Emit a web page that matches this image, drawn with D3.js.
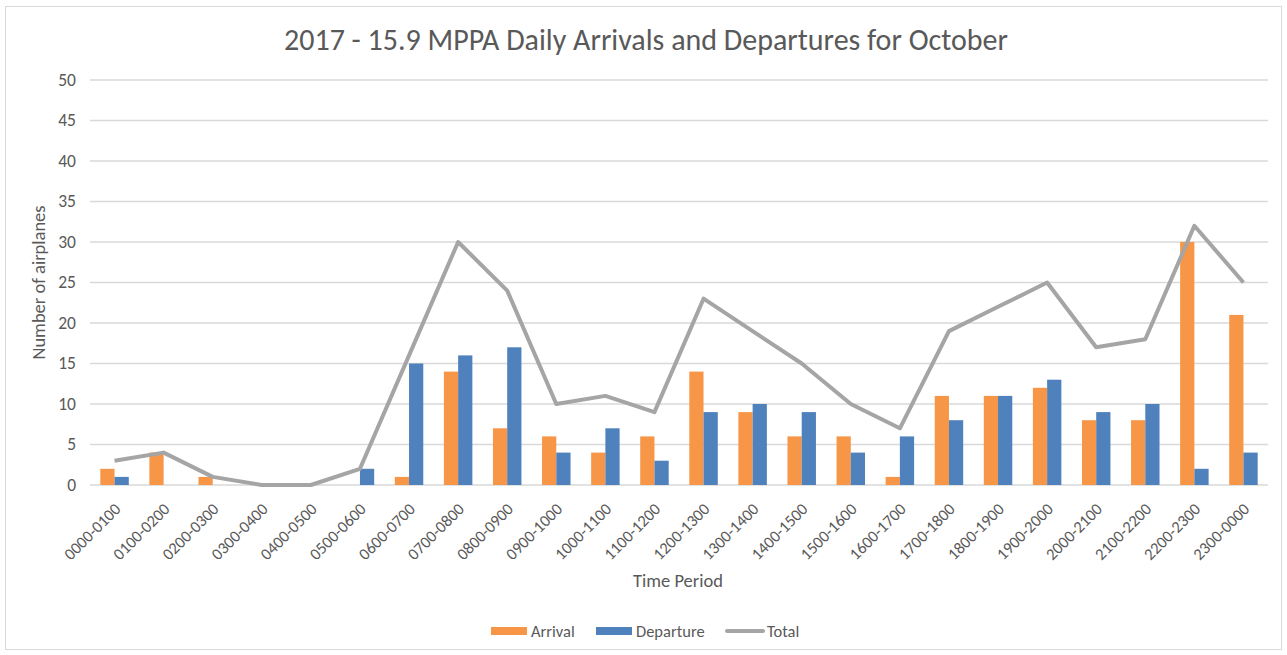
<!DOCTYPE html>
<html>
<head>
<meta charset="utf-8">
<script src="https://cdn.jsdelivr.net/npm/d3@7"></script>
<style>
  body { margin: 0; background: #fff; }
  text { font-family: Carlito, "Liberation Sans", Arial, sans-serif; fill: #595959; }
</style>
</head>
<body>
<div id="chart"></div>
<script>
const periods = [
  "0000-0100", "0100-0200", "0200-0300", "0300-0400", "0400-0500", "0500-0600",
  "0600-0700", "0700-0800", "0800-0900", "0900-1000", "1000-1100", "1100-1200",
  "1200-1300", "1300-1400", "1400-1500", "1500-1600", "1600-1700", "1700-1800",
  "1800-1900", "1900-2000", "2000-2100", "2100-2200", "2200-2300", "2300-0000",
];
const arrivals = [2, 4, 1, 0, 0, 0, 1, 14, 7, 6, 4, 6, 14, 9, 6, 6, 1, 11, 11, 12, 8, 8, 30, 21];
const departures = [1, 0, 0, 0, 0, 2, 15, 16, 17, 4, 7, 3, 9, 10, 9, 4, 6, 8, 11, 13, 9, 10, 2, 4];
const totals = [3, 4, 1, 0, 0, 2, 16, 30, 24, 10, 11, 9, 23, 19, 15, 10, 7, 19, 22, 25, 17, 18, 32, 25];
const yTicks = [0, 5, 10, 15, 20, 25, 30, 35, 40, 45, 50];

const COLORS = { arrival: "#F79646", departure: "#4F81BD", total: "#A5A5A5", grid: "#D9D9D9" };

const width = 1287;
const height = 655;
const plot = { left: 90, right: 1268, top: 80, bottom: 485 };

const svg = d3.select("#chart").append("svg")
  .attr("width", width)
  .attr("height", height);

// chart frame
svg.append("rect")
  .attr("x", 5.5).attr("y", 6.5)
  .attr("width", 1276).attr("height", 643)
  .attr("fill", "#fff")
  .attr("stroke", "#D9D9D9");

const x = d3.scaleBand().domain(periods).range([plot.left, plot.right]);
const y = d3.scaleLinear().domain([0, 50]).range([plot.bottom, plot.top]);
const barW = x.bandwidth() * 0.29;

// gridlines
svg.append("g")
  .selectAll("line")
  .data(yTicks)
  .enter()
  .append("line")
  .attr("x1", plot.left).attr("x2", plot.right)
  .attr("y1", (d) => y(d)).attr("y2", (d) => y(d))
  .attr("stroke", COLORS.grid)
  .attr("stroke-width", 1.3);

// y axis labels
svg.append("g")
  .selectAll("text")
  .data(yTicks)
  .enter()
  .append("text")
  .attr("x", 76)
  .attr("y", (d) => y(d) + 5.8)
  .attr("text-anchor", "end")
  .attr("font-size", "17.5px")
  .text((d) => d);

// bars
const center = (d) => x(d) + x.bandwidth() / 2;

svg.append("g")
  .selectAll("rect")
  .data(periods)
  .enter()
  .append("rect")
  .attr("x", (d) => center(d) - barW)
  .attr("y", (d, i) => y(arrivals[i]))
  .attr("width", barW)
  .attr("height", (d, i) => y(0) - y(arrivals[i]))
  .attr("fill", COLORS.arrival);

svg.append("g")
  .selectAll("rect")
  .data(periods)
  .enter()
  .append("rect")
  .attr("x", (d) => center(d))
  .attr("y", (d, i) => y(departures[i]))
  .attr("width", barW)
  .attr("height", (d, i) => y(0) - y(departures[i]))
  .attr("fill", COLORS.departure);

// total line
const line = d3.line()
  .x((d, i) => center(periods[i]))
  .y((d) => y(d));

svg.append("path")
  .datum(totals)
  .attr("d", line)
  .attr("fill", "none")
  .attr("stroke", COLORS.total)
  .attr("stroke-width", 4)
  .attr("stroke-linejoin", "round");

// x labels, rotated
svg.append("g")
  .selectAll("text")
  .data(periods)
  .enter()
  .append("text")
  .attr("transform", (d) => `translate(${center(d) + 3}, ${plot.bottom + 21}) rotate(-45)`)
  .attr("text-anchor", "end")
  .attr("dy", "0.35em")
  .attr("font-size", "16.5px")
  .text((d) => d);

// title + axis titles
svg.append("text")
  .attr("x", 646).attr("y", 50)
  .attr("text-anchor", "middle")
  .attr("font-size", "30px")
  .text("2017 - 15.9 MPPA Daily Arrivals and Departures for October");

svg.append("text")
  .attr("x", 678).attr("y", 587)
  .attr("text-anchor", "middle")
  .attr("font-size", "18.5px")
  .text("Time Period");

svg.append("text")
  .attr("transform", `translate(45, ${(plot.top + plot.bottom) / 2}) rotate(-90)`)
  .attr("text-anchor", "middle")
  .attr("font-size", "18.5px")
  .text("Number of airplanes");

// legend
const legendData = [
  { label: "Arrival", color: COLORS.arrival, type: "rect", x: 491 },
  { label: "Departure", color: COLORS.departure, type: "rect", x: 596 },
  { label: "Total", color: COLORS.total, type: "line", x: 725 },
];

const legend = svg.append("g").attr("transform", "translate(0, 631)");

legendData.forEach((d) => {
  if (d.type === "rect") {
    legend.append("rect")
      .attr("x", d.x).attr("y", -4)
      .attr("width", 36).attr("height", 8)
      .attr("fill", d.color);
  } else {
    legend.append("line")
      .attr("x1", d.x + 2).attr("x2", d.x + 38)
      .attr("y1", 0).attr("y2", 0)
      .attr("stroke", d.color)
      .attr("stroke-width", 4)
      .attr("stroke-linecap", "round");
  }
  legend.append("text")
    .attr("x", d.x + (d.type === "rect" ? 40 : 42))
    .attr("y", 5.5)
    .attr("font-size", "16.5px")
    .text(d.label);
});
</script>
</body>
</html>
